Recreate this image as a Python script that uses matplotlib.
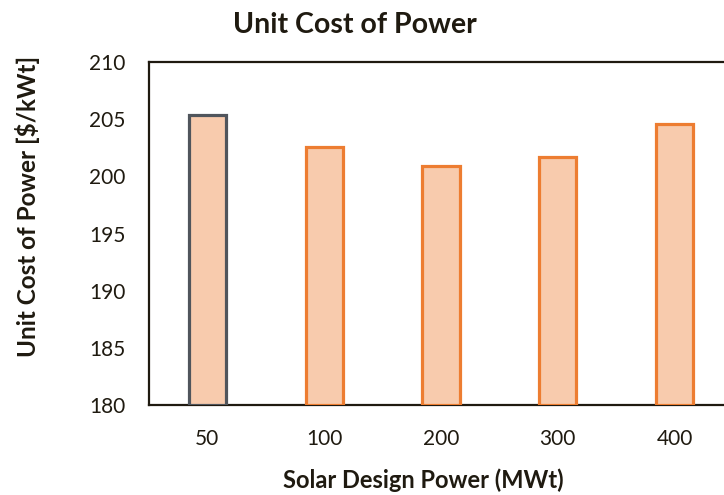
import matplotlib
matplotlib.use("Agg")
import matplotlib.pyplot as plt

categories = ["50", "100", "200", "300", "400"]
values = [205.4, 202.6, 200.9, 201.7, 204.6]
edge_colors = ["#50555C", "#ED7D31", "#ED7D31", "#ED7D31", "#ED7D31"]
yticks = [180, 185, 190, 195, 200, 205, 210]

plt.rcParams['font.family'] = ['Lato', 'DejaVu Sans']

fig = plt.figure(figsize=(7.24, 4.95), dpi=100)
ax = fig.add_axes([149/724, 1-405/495, (733-149)/724, (405-62)/495])

x = list(range(len(categories)))
ax.bar(x, [v - 180 for v in values], bottom=180, width=0.32,
       color="#F8CBAD", edgecolor=edge_colors, linewidth=2.3, zorder=3)

ax.set_xlim(-0.5, len(categories) - 0.5)
ax.set_ylim(180, 210)
ax.set_yticks(yticks)
ax.set_yticklabels([str(t) for t in yticks])
ax.set_xticks(x)
ax.set_xticklabels(categories)
ax.tick_params(axis='both', length=0, labelsize=15, colors="#1f1a10")
ax.tick_params(axis='y', pad=17)
ax.tick_params(axis='x', pad=17)
for s in ax.spines.values():
    s.set_color("#1f1a10")
    s.set_linewidth(1.6)

fig.text(355/724, 1-25/495, "Unit Cost of Power", ha="center", va="center",
         fontsize=20.5, fontweight="bold", color="#1f1a10")
fig.text(423/724, 3/495, "Solar Design Power (MWt)", ha="center", va="bottom",
         fontsize=17, fontweight="bold", color="#1f1a10")
fig.text(28/724, 1-206/495, "Unit Cost of Power [$/kWt]", ha="center", va="center",
         rotation=90, fontsize=17.5, fontweight="bold", color="#1f1a10")

fig.savefig("out.png", dpi=100)
